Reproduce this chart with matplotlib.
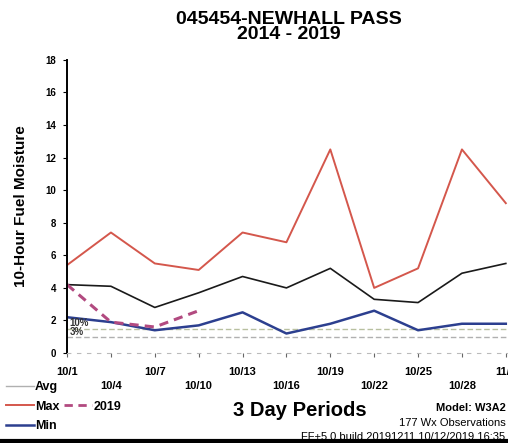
import matplotlib
matplotlib.use("Agg")
import matplotlib.pyplot as plt
from matplotlib.lines import Line2D

plt.rcParams['font.family'] = ['Liberation Sans', 'DejaVu Sans']

# data
periods = ['10/1', '10/4', '10/7', '10/10', '10/13', '10/16', '10/19', '10/22', '10/25', '10/28', '11/3']
max_vals = [5.4, 7.4, 5.5, 5.1, 7.4, 6.8, 12.5, 4.0, 5.2, 12.5, 9.2]
avg_vals = [4.2, 4.1, 2.8, 3.7, 4.7, 4.0, 5.2, 3.3, 3.1, 4.9, 5.5]
min_vals = [2.2, 1.9, 1.4, 1.7, 2.5, 1.2, 1.8, 2.6, 1.4, 1.8, 1.8]
y2019_vals = [4.2, 1.9, 1.6, 2.6]
pct10 = 1.5
pct3 = 1.0

x = list(range(len(periods)))

fig = plt.figure(figsize=(5.08, 4.43), dpi=100)
ax = fig.add_axes([0.132, 0.203, 0.868, 0.662])

ax.axhline(pct10, color='#b8c0a0', lw=1, ls=(0, (4, 2)))
ax.axhline(pct3, color='#b0b0b0', lw=1, ls=(0, (4, 2)))
ax.text(0.05, pct10 + 0.15, '10%', fontsize=7, fontweight='bold', color='#333333')
ax.text(0.05, pct3 + 0.1, '3%', fontsize=7, fontweight='bold', color='#333333')

ax.plot(x, max_vals, color='#d4574c', lw=1.4)
ax.plot(x, avg_vals, color='#1a1a1a', lw=1.2)
ax.plot(x, min_vals, color='#2c3f8f', lw=1.8)
ax.plot(x[:len(y2019_vals)], y2019_vals, color='#b24a80', lw=2.2, ls=(0, (3, 2)))

ax.set_xlim(0, 10.05)
ax.set_ylim(0, 18)
ax.set_yticks(range(0, 19, 2))
ax.set_yticklabels([str(v) for v in range(0, 19, 2)], fontsize=7, fontweight='bold')
ax.set_xticks(x)
ax.set_xticklabels([p if i % 2 == 0 else '\n' + p for i, p in enumerate(periods)],
                   fontsize=8, fontweight='bold', linespacing=1.5)
ax.tick_params(axis='x', length=3, color='#666666', pad=7)
ax.tick_params(axis='y', length=3, pad=5)
for s in ['top', 'right']:
    ax.spines[s].set_visible(False)
ax.spines['bottom'].set_color('#bbbbbb')
ax.spines['bottom'].set_linestyle((0, (3, 6)))
ax.spines['left'].set_linewidth(1.4)

ax.set_ylabel('10-Hour Fuel Moisture', fontsize=11, fontweight='bold', labelpad=12)

fig.text(0.569, 0.94, '045454-NEWHALL PASS\n2014 - 2019', ha='center', va='center',
         fontsize=14, fontweight='bold', linespacing=0.85)
fig.text(0.59, 0.073, '3 Day Periods', ha='center', va='center', fontsize=14.5, fontweight='bold')
fig.text(0.995, 0.08, 'Model: W3A2', ha='right', va='center', fontsize=8, fontweight='bold')
fig.text(0.995, 0.045, '177 Wx Observations', ha='right', va='center', fontsize=8)
fig.text(0.995, 0.013, 'FF+5.0 build 20191211 10/12/2019 16:35', ha='right', va='center', fontsize=8)

handles = [
    Line2D([], [], color='#b0b0b0', lw=1),
    Line2D([], [], color='#d4574c', lw=1.4),
    Line2D([], [], color='#2c3f8f', lw=1.8),
    Line2D([], [], color='none'),
    Line2D([], [], color='#b24a80', lw=2, ls=(0, (3, 2))),
    Line2D([], [], color='none'),
]
labels = ['Avg', 'Max', 'Min', '', '2019', '']
fig.legend(handles, labels, loc='upper left', bbox_to_anchor=(-0.01, 0.165), ncol=2,
           frameon=False, prop={'weight': 'bold', 'size': 9},
           handlelength=2.2, handletextpad=0.1, columnspacing=0.4, labelspacing=0.6)

fig.add_artist(Line2D([0, 1], [0.004, 0.004], color='black', lw=3, transform=fig.transFigure))

fig.savefig('out.png', dpi=100)
